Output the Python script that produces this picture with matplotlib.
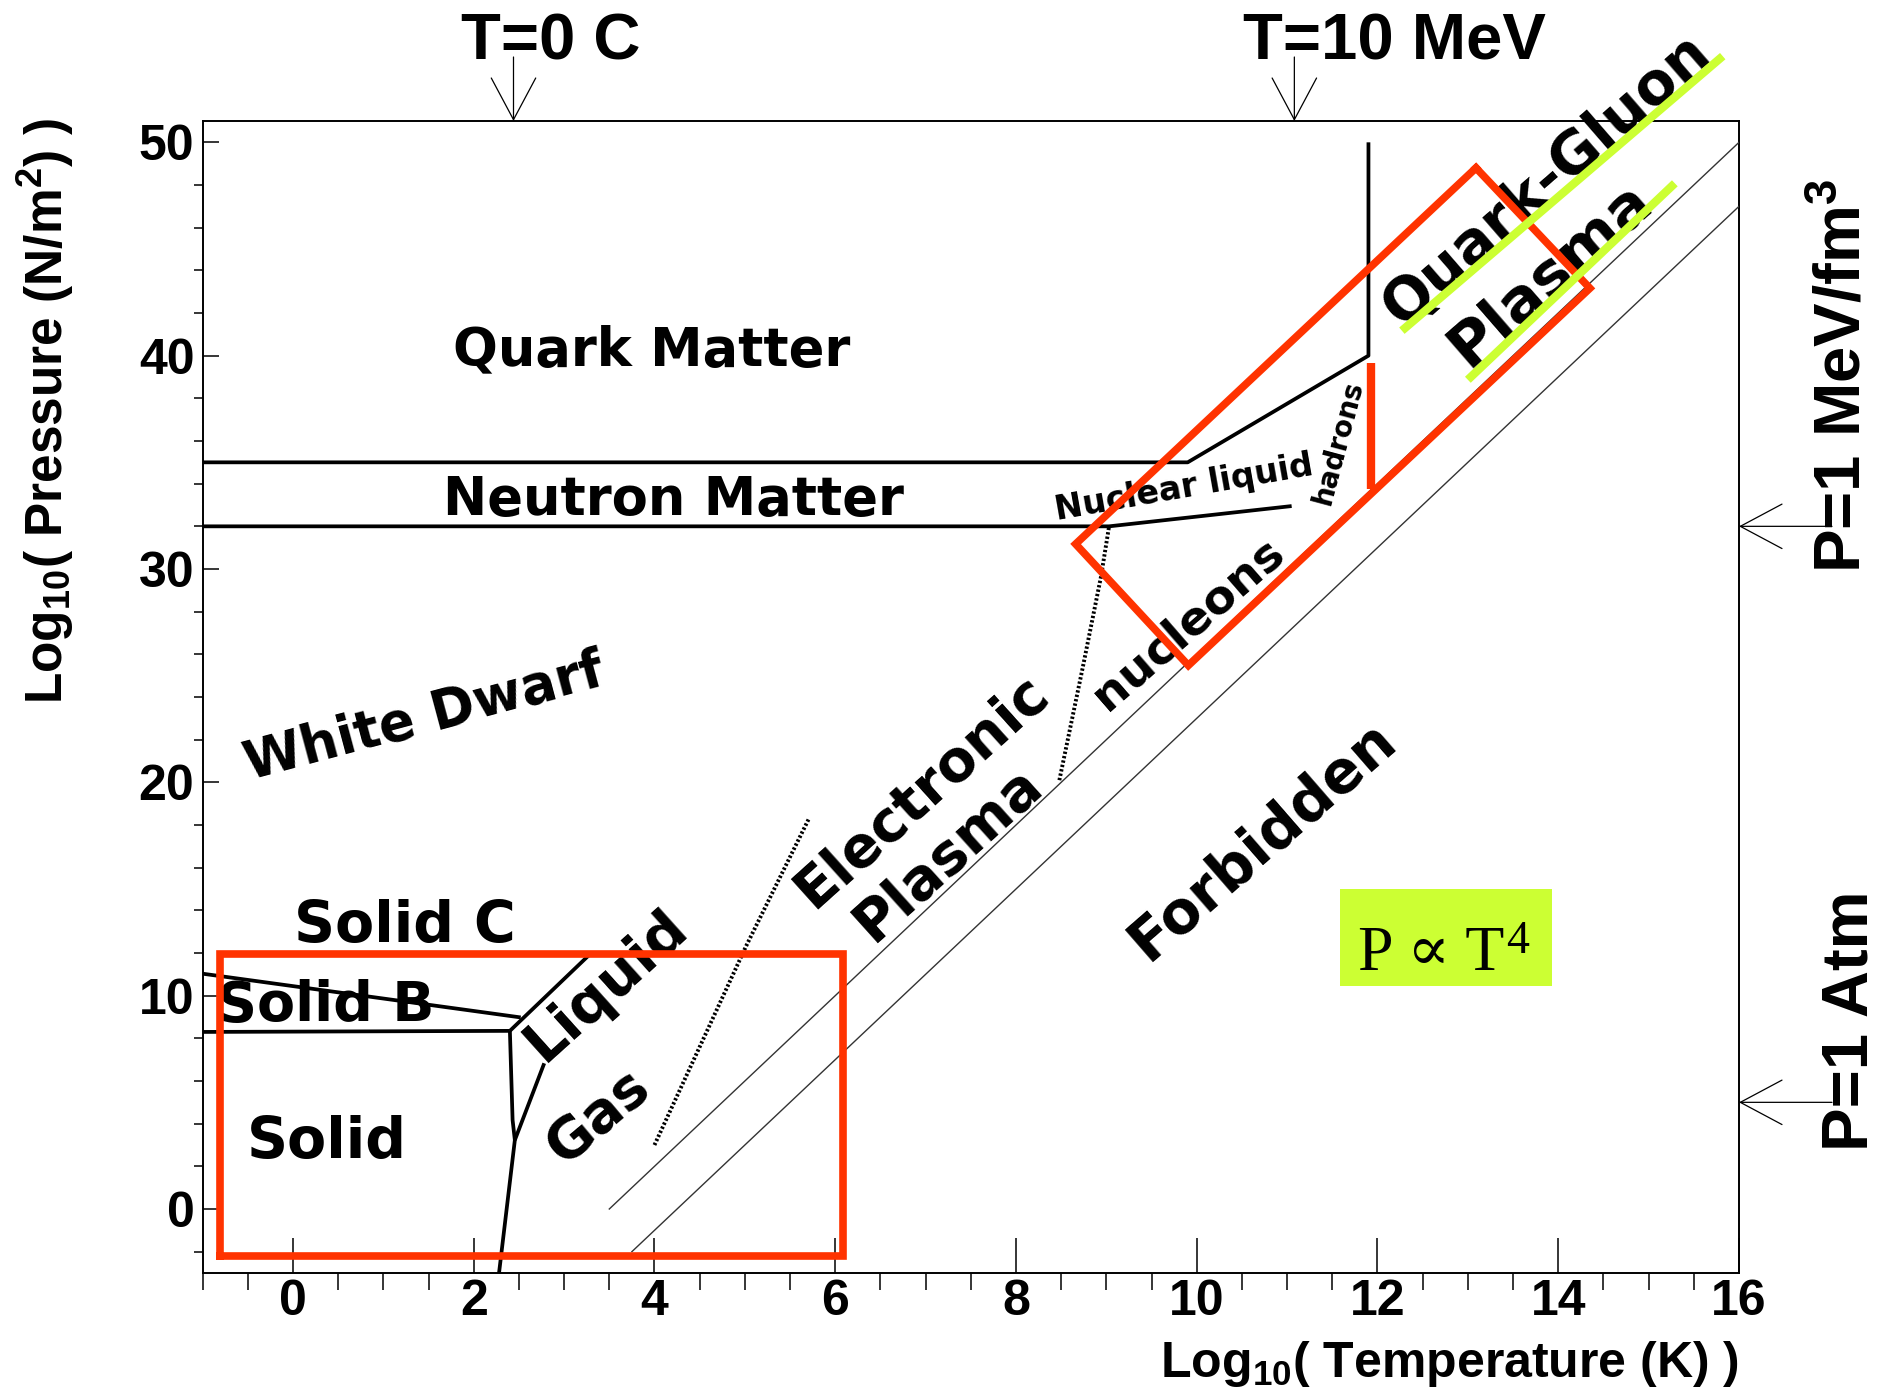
import matplotlib
matplotlib.use("Agg")
import matplotlib.pyplot as plt
from matplotlib.patches import Rectangle
from matplotlib.ticker import MultipleLocator

# axis ranges: log10 T [K], log10 P [N/m^2]
x_range = (-1, 16)
y_range = (-3, 51)

# phase boundaries
hadron_x = [-1, 9.9, 11.9, 11.9]
hadron_y = [35, 35, 40, 50]
neutron_x = [-1, 9.03, 11.05]
neutron_y = [32, 32, 32.95]
solid_b_x = [-1, 2.52]
solid_b_y = [11.03, 8.98]
solid_top_x = [-1, 2.40]
solid_top_y = [8.3, 8.35]
liquid_x = [2.40, 3.3]
liquid_y = [8.35, 12.0]
fusion_x = [2.40, 2.43, 2.455, 2.28]
fusion_y = [8.35, 4.17, 3.23, -3]
gas_x = [2.78, 2.455]
gas_y = [6.83, 3.23]

# dotted transitions
ionize_x = [4.0, 5.01, 5.71]
ionize_y = [3.0, 12.29, 18.31]
deconf_x = [8.48, 8.74, 8.94, 9.03]
deconf_y = [20.1, 25.41, 29.63, 32.0]

# P ~ T^4 lines
t4_upper_x = [3.5, 16]
t4_upper_y = [0, 50]
t4_lower_x = [3.75, 16]
t4_lower_y = [-2, 47]

# highlights
qgp_box_x = [13.09, 14.35, 9.907, 8.66, 13.09]
qgp_box_y = [48.8, 43.16, 25.48, 31.17, 48.8]
low_box_x = [-0.81, 6.09, 6.09, -0.81, -0.81]
low_box_y = [-2.19, -2.19, 11.97, 11.97, -2.19]
hadron_bar_x = [11.93, 11.93]
hadron_bar_y = [33.75, 39.67]
green1_x = [12.27, 15.82]
green1_y = [41.17, 54.04]
green2_x = [13.0, 15.29]
green2_y = [38.87, 48.08]
t4_box = (11.58, 10.46, 2.35, 4.54)   # x0, y0, width, height

# reference marks on the frame
t_marks = [2.44, 11.08]
t_mark_labels = ["T=0 C", "T=10 MeV"]
p_marks = [32.0, 5.0]
p_mark_labels = ["P=1 MeV/fm$^{3}$", "P=1 Atm"]

# region labels: text, x, y, rotation, size
regions = [
    ("Quark Matter", 3.97, 40.23, 0, 38),
    ("Neutron Matter", 4.21, 33.22, 0, 38),
    ("White Dwarf", 1.45, 23.05, 15, 38),
    ("Solid C", 1.24, 13.24, 0, 41),
    ("Solid B", 0.365, 9.53, 0, 40),
    ("Solid", 0.38, 3.14, 0, 41),
    ("Liquid", 3.47, 10.46, 42, 41),
    ("Gas", 3.37, 4.33, 40, 40),
    ("Electronic", 6.96, 19.54, 42, 41),
    ("Plasma", 7.26, 16.64, 42, 41),
    ("Forbidden", 10.73, 17.29, 41, 42),
    ("nucleons", 9.91, 27.41, 41, 34),
    ("Nuclear liquid", 9.86, 33.79, 10, 24),
    ("hadrons", 11.57, 35.96, 75, 20),
    ("Quark-Gluon", 13.87, 48.2, 41, 42),
    ("Plasma", 13.92, 43.83, 41, 44),
]

W, H = 1881, 1400
RED = "#ff3300"
GREEN = "#ccff33"

plt.rcParams["font.family"] = ["Liberation Sans", "DejaVu Sans"]
plt.rcParams["font.weight"] = "bold"
plt.rcParams["mathtext.default"] = "regular"


def fxy(px, py):
    return px / W, 1 - py / H


fig = plt.figure(figsize=(W / 100, H / 100), dpi=100)
ax = fig.add_axes([202.6 / W, 1 - 1273 / H, (1739 - 202.6) / W, (1273 - 121) / H])
ax.set_xlim(*x_range)
ax.set_ylim(*y_range)

ax.set_xticks(range(0, 17, 2))
ax.set_yticks(range(0, 51, 10))
ax.xaxis.set_minor_locator(MultipleLocator(0.5))
ax.yaxis.set_minor_locator(MultipleLocator(2))
ax.tick_params(direction="in", labelsize=36, width=1.1, top=False, right=False)
ax.tick_params(axis="x", which="major", length=25, pad=4)
ax.tick_params(axis="x", which="minor", length=12, width=1.1)
ax.tick_params(axis="y", which="major", length=11.5, pad=6)
ax.tick_params(axis="y", which="minor", length=6.8, width=1.1)
for s in ax.spines.values():
    s.set_linewidth(1.4)

blk = dict(color="black", lw=2.7, solid_capstyle="butt", zorder=3)
for xs, ys in [(hadron_x, hadron_y), (neutron_x, neutron_y), (solid_b_x, solid_b_y),
               (solid_top_x, solid_top_y), (liquid_x, liquid_y), (fusion_x, fusion_y),
               (gas_x, gas_y)]:
    ax.plot(xs, ys, **blk)

for xs, ys in [(ionize_x, ionize_y), (deconf_x, deconf_y)]:
    ax.plot(xs, ys, color="black", lw=2.8, ls=(0, (0.6, 0.55)), zorder=3)

for xs, ys in [(t4_upper_x, t4_upper_y), (t4_lower_x, t4_lower_y)]:
    ax.plot(xs, ys, color="#333333", lw=1.0, zorder=3)

for text, x, y, rot, size in regions:
    ax.text(x, y, text, rotation=rot, fontsize=size, family="DejaVu Sans",
            ha="center", va="center", rotation_mode="anchor", zorder=4)

# red highlight boxes
for xs, ys in [(qgp_box_x, qgp_box_y), (low_box_x, low_box_y)]:
    ax.plot(xs, ys, color=RED, lw=5.5, solid_joinstyle="miter", zorder=5, clip_on=False)
ax.plot(hadron_bar_x, hadron_bar_y, color=RED, lw=6, solid_capstyle="butt", zorder=5)

# green underlines
for xs, ys in [(green1_x, green1_y), (green2_x, green2_y)]:
    ax.plot(xs, ys, color=GREEN, lw=6, solid_capstyle="butt", zorder=6, clip_on=False)

# P ~ T^4 tag
x0, y0, bw, bh = t4_box
ax.add_patch(Rectangle((x0, y0), bw, bh, facecolor=GREEN, edgecolor="none", zorder=6))
serif = ["Liberation Serif", "DejaVu Serif"]
tag = ax.text(x0 + 0.2, y0 + 0.74, "P \u221d T", fontsize=46, fontweight="normal",
              family=serif, ha="left", va="baseline", zorder=7)
ax.annotate("4", xy=(1, 1), xycoords=tag, xytext=(2, 6), textcoords="offset pixels",
            fontsize=33, fontweight="normal", family=serif, ha="left", va="top", zorder=7)

# temperature / pressure markers on the frame
arrow = dict(arrowstyle="->,head_length=3.0,head_width=1.6", lw=0.9, color="black",
             shrinkA=0, shrinkB=0, mutation_scale=10)
for t in t_marks:
    ax.annotate("", xy=(t, 1), xycoords=("data", "axes fraction"), xytext=(0, 64),
                textcoords="offset pixels", arrowprops=arrow, annotation_clip=False)
for p in p_marks:
    ax.annotate("", xy=(1, p), xycoords=("axes fraction", "data"), xytext=(93, 0),
                textcoords="offset pixels", arrowprops=arrow, annotation_clip=False)

for label, (px, py) in zip(t_mark_labels, [(551, 42), (1394, 42)]):
    fig.text(*fxy(px, py), label, fontsize=47, ha="center", va="center")
for label, (px, py) in zip(p_mark_labels, [(1843, 376), (1851, 1021)]):
    fig.text(*fxy(px, py), label, fontsize=47, rotation=90, ha="center", va="center")

fig.text(*fxy(1739, 1377), "Log$_{10}$( Temperature (K) )", fontsize=36,
         ha="right", va="baseline")
fig.text(*fxy(46, 411), "Log$_{10}$( Pressure (N/m$^{2}$) )", fontsize=37,
         rotation=90, ha="center", va="center")

fig.savefig("out.png", dpi=100)
